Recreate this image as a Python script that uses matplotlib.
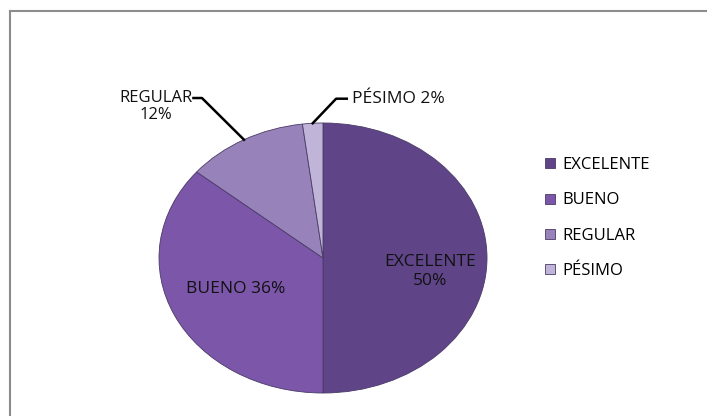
import matplotlib
matplotlib.use("Agg")
import matplotlib.pyplot as plt
import numpy as np
from matplotlib.lines import Line2D

categories = ["EXCELENTE", "BUENO", "REGULAR", "PÉSIMO"]
values = [50, 36, 12, 2]
colors = ["#5f4588", "#7b56a9", "#9782ba", "#c0b5d8"]

plt.rcParams['font.family'] = ['Open Sans', 'DejaVu Sans']

W, H = 707, 416
fig = plt.figure(figsize=(W / 100, H / 100), dpi=100)
fig.patch.set_facecolor("white")

# border (left and top visible)
fig.add_artist(Line2D([10 / W, 10 / W], [0, 1 - 11 / H], color="#8c8c8c", lw=1.5))
fig.add_artist(Line2D([10 / W, 1], [1 - 11 / H, 1 - 11 / H], color="#8c8c8c", lw=1.5))

cx, cy, rx, ry = 323, 258, 164, 135
ax = fig.add_axes([(cx - rx) / W, (H - cy - ry) / H, 2 * rx / W, 2 * ry / H])
wedges, _ = ax.pie(values, colors=colors, startangle=90, counterclock=False,
                   wedgeprops=dict(edgecolor="#4a3a66", linewidth=0.6))
ax.set_aspect("auto")
ax.set_xlim(-1, 1)
ax.set_ylim(-1, 1)
ax.axis("off")

fs = 12.5
tc = "#111111"
ax.text(0.655, -0.10, f"{categories[0]}\n{values[0]}%", ha="center", va="center",
        fontsize=fs, color=tc, linespacing=1.2)
ax.text(-0.53, -0.23, f"{categories[1]} {values[1]}%", ha="center", va="center",
        fontsize=fs, color=tc)
ax.text(-1.02, 1.125, f"{categories[2]}\n{values[2]}%", ha="center", va="center",
        fontsize=12, color=tc, linespacing=1.1, clip_on=False)
ax.text(0.177, 1.18, f"{categories[3]} {values[3]}%", ha="left", va="center",
        fontsize=fs, color=tc, clip_on=False)

# leader lines
def edge_point(w):
    th = np.deg2rad((w.theta1 + w.theta2) / 2)
    return np.cos(th), np.sin(th)

ex, ey = edge_point(wedges[2])
ax.plot([-0.79, -0.738, ex], [1.185, 1.185, ey], color="black", lw=1.8, clip_on=False)
ex, ey = edge_point(wedges[3])
ax.plot([0.145, 0.08, ex], [1.18, 1.18, ey], color="black", lw=1.8, clip_on=False)

fig.legend(wedges, categories, loc="upper left", bbox_to_anchor=(537 / W, 1 - 149 / H),
           frameon=False, fontsize=12, handlelength=0.55, handleheight=0.55,
           handletextpad=0.45, labelspacing=1.15, borderpad=0)

fig.savefig("out.png", dpi=100, facecolor="white")
